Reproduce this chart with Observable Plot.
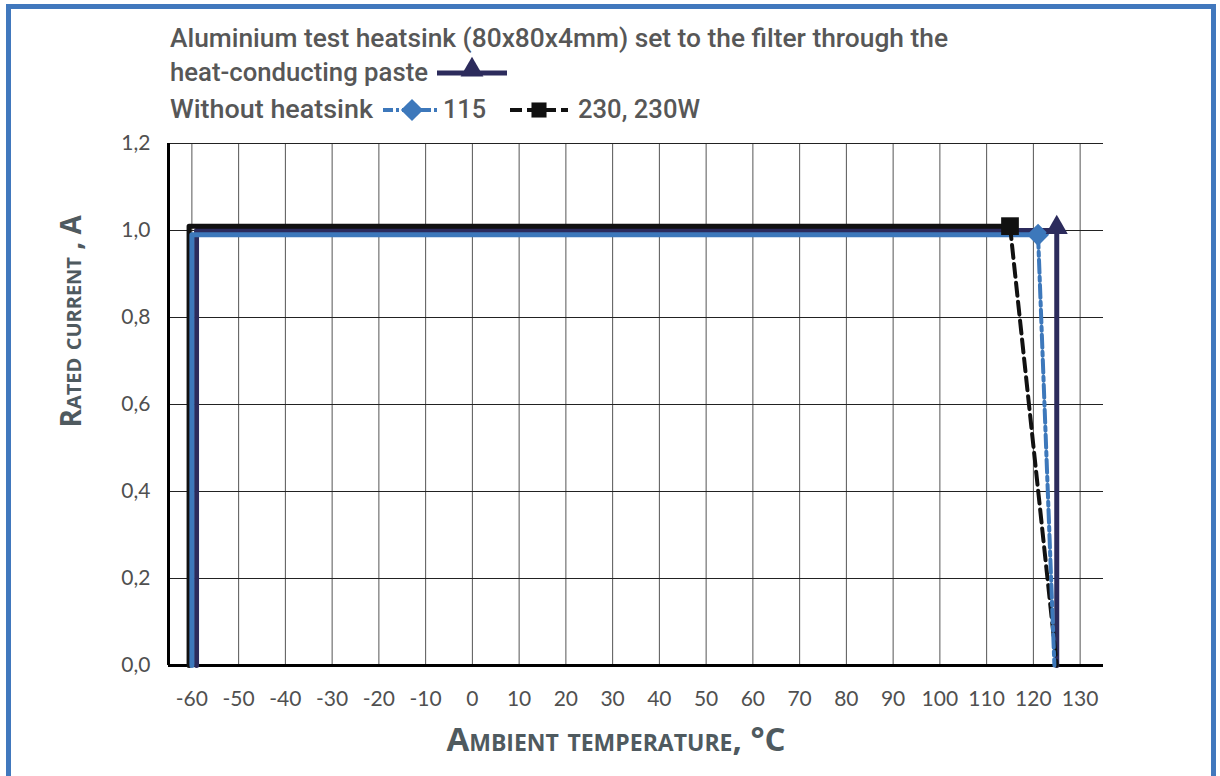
<!DOCTYPE html>
<html><head><meta charset="utf-8">
<script src="https://cdn.jsdelivr.net/npm/d3@7"></script>
<script src="https://cdn.jsdelivr.net/npm/@observablehq/plot@0.6"></script>
<style>
body{margin:0;background:#fff;}
#wrap{position:relative;width:1220px;height:776px;overflow:hidden;background:#fff;}
#frame{position:absolute;left:6px;top:4px;width:1200px;height:800px;border:5px solid #4178bd;z-index:5;pointer-events:none;}
#legend{position:absolute;left:0;top:0;}
#chart{position:absolute;left:0;top:130px;}
</style></head><body>
<div id="wrap"><svg id="legend" width="1220" height="130"></svg><div id="chart"></div><div id="frame"></div></div>
<script>
// ---- data ----
const xTicks = [-60,-50,-40,-30,-20,-10,0,10,20,30,40,50,60,70,80,90,100,110,120,130];
const xTickLabels = ["-60","-50","-40","-30","-20","-10","0","10","20","30","40","50","60","70","80","90","100","110","120","130"];
const yTicks = [0,0.2,0.4,0.6,0.8,1.0,1.2];
const yTickLabels = ["0,0","0,2","0,4","0,6","0,8","1,0","1,2"];
const xLabel = "Ambient temperature, °C";
const yLabel = "Rated current , A";
const legendLine1 = "Aluminium test heatsink (80x80x4mm) set to the filter through the";
const legendLine2 = "heat-conducting paste";
const legendLine3 = "Without heatsink";
const legend115 = "115";
const legend230 = "230, 230W";
// Heatsink series (navy, triangle)
const heatsinkTemp = [-59, -59, 125, 125];
const heatsinkCurrent = [0, 1.0, 1.0, 0];
// Without heatsink, 115 (blue, diamond)
const w115Temp = [-60, -60, 121, 124.5];
const w115Current = [0, 0.99, 0.99, 0];
// Without heatsink, 230, 230W (black, square)
const w230Temp = [-60.6, -60.6, 115, 125];
const w230Current = [0, 1.01, 1.01, 0];

const NAVY = "#2c2b5c", BLUE = "#3d78bb", BLACK = "#111111";
const rows = (t, c) => t.map((v, i) => ({t: v, c: c[i]}));
const heat = rows(heatsinkTemp, heatsinkCurrent);
const s115 = rows(w115Temp, w115Current);
const s230 = rows(w230Temp, w230Current);

const fmtX = d => xTickLabels[xTicks.indexOf(d)];
const fmtY = d => yTickLabels[yTicks.findIndex(v => Math.abs(v - d) < 1e-9)];

const plot = Plot.plot({
  width: 1220, height: 646,
  marginTop: 13, marginBottom: 111, marginLeft: 168, marginRight: 117,
  style: {fontFamily: "Lato, 'Open Sans', sans-serif", fontSize: "21px", color: "#505050", background: "transparent", fontVariantNumeric: "oldstyle-nums"},
  x: {domain: [-65, 135], ticks: xTicks, tickFormat: fmtX, tickSize: 0, tickPadding: 26, label: null},
  y: {domain: [0, 1.2], ticks: yTicks, tickFormat: fmtY, tickSize: 0, tickPadding: 18, label: null},
  marks: [
    Plot.ruleX(xTicks, {stroke: "#555", strokeWidth: 1}),
    Plot.ruleY(yTicks.slice(1), {stroke: "#222", strokeWidth: 1}),
    Plot.ruleX([-65], {stroke: "#000", strokeWidth: 3}),
    Plot.ruleY([0], {stroke: "#000", strokeWidth: 3}),
    Plot.line(heat, {x: "t", y: "c", stroke: NAVY, strokeWidth: 5}),
    Plot.line(s230.slice(0, 3), {x: "t", y: "c", stroke: BLACK, strokeWidth: 5}),
    Plot.line(s115.slice(0, 3), {x: "t", y: "c", stroke: BLUE, strokeWidth: 5}),
    Plot.line(s230.slice(2), {x: "t", y: "c", stroke: BLACK, strokeWidth: 4, strokeDasharray: "13,6"}),
    Plot.line(s115.slice(2), {x: "t", y: "c", stroke: BLUE, strokeWidth: 4, strokeDasharray: "13,4,4,4"}),
    Plot.dot(s230.slice(2, 3), {x: "t", y: "c", symbol: "square", r: 10, fill: BLACK}),
    Plot.dot(s115.slice(2, 3), {x: "t", y: "c", symbol: "diamond2", r: 10, fill: BLUE}),
    Plot.dot(heat.slice(2, 3), {x: "t", y: "c", symbol: "triangle", r: 8.2, fill: NAVY, dy: -3}),
    Plot.text([xLabel], {frameAnchor: "bottom", dx: -20, dy: 75, lineAnchor: "middle", fontSize: 33, fontWeight: "bold", fontVariant: "small-caps", fill: "#4f5a5f", fontFamily: "'Open Sans', sans-serif", ariaLabel: "xlabel"}),
    Plot.text([yLabel], {frameAnchor: "left", rotate: -90, dx: -96, dy: 23, lineAnchor: "middle", fontSize: 28, fontWeight: "bold", fontVariant: "small-caps", fill: "#4f5a5f", fontFamily: "'Open Sans', sans-serif", ariaLabel: "ylabel"})
  ]
});
document.getElementById("chart").appendChild(plot);
d3.select(plot).selectAll('g[aria-label="xlabel"] text').attr("textLength", 405).attr("lengthAdjust", "spacingAndGlyphs");
d3.select(plot).selectAll('g[aria-label="ylabel"] text').attr("textLength", 312).attr("lengthAdjust", "spacingAndGlyphs");

// ---- legend ----
const lg = d3.select("#legend");
const tStyle = s => s.attr("font-family", "Roboto, 'DejaVu Sans', sans-serif").attr("font-size", 25).attr("font-weight", 500).attr("fill", "#575757").attr("lengthAdjust", "spacingAndGlyphs");
lg.append("text").text(legendLine1).attr("x", 170).attr("y", 47).attr("textLength", 778).call(tStyle);
lg.append("text").text(legendLine2).attr("x", 170).attr("y", 81).attr("textLength", 258).call(tStyle);
lg.append("line").attr("x1", 437).attr("x2", 507).attr("y1", 73).attr("y2", 73).attr("stroke", NAVY).attr("stroke-width", 5);
lg.append("path").attr("d", d3.symbol(d3.symbolTriangle, Math.PI * 8.5 * 8.5)()).attr("transform", "translate(472,70)").attr("fill", NAVY);
lg.append("text").text(legendLine3).attr("x", 170).attr("y", 118).attr("textLength", 203).call(tStyle);
lg.append("line").attr("x1", 383).attr("x2", 438).attr("y1", 110).attr("y2", 110).attr("stroke", BLUE).attr("stroke-width", 4).attr("stroke-dasharray", "10,3,3,3");
lg.append("path").attr("d", d3.symbol(d3.symbolDiamond2, Math.PI * 10 * 10)()).attr("transform", "translate(412,110)").attr("fill", BLUE);
lg.append("text").text(legend115).attr("x", 443).attr("y", 118).attr("textLength", 43).call(tStyle);
lg.append("line").attr("x1", 510).attr("x2", 568).attr("y1", 110).attr("y2", 110).attr("stroke", BLACK).attr("stroke-width", 4).attr("stroke-dasharray", "12,5");
lg.append("path").attr("d", d3.symbol(d3.symbolSquare, Math.PI * 8.5 * 8.5)()).attr("transform", "translate(539,110)").attr("fill", BLACK);
lg.append("text").text(legend230).attr("x", 578).attr("y", 118).attr("textLength", 122).call(tStyle);
</script>
</body></html>
